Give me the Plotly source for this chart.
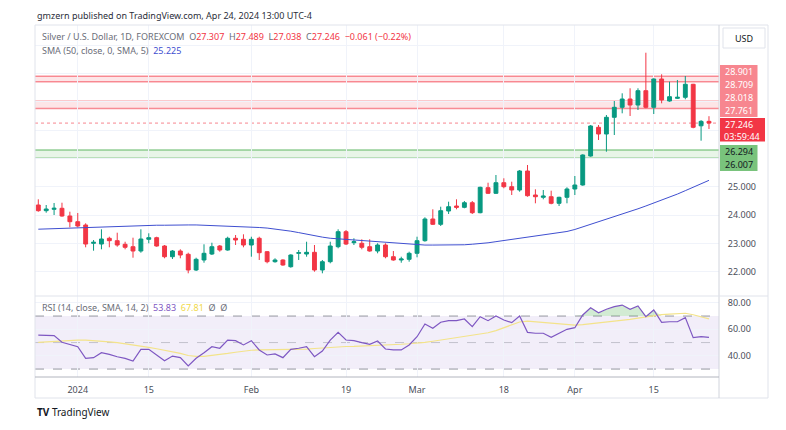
import plotly.graph_objects as go

# ---------------- data ----------------
opens = [24.354, 24.153, 24.202, 24.238, 23.966, 23.765, 23.648, 23.002, 22.977, 23.179,
         23.094, 22.967, 22.882, 22.730, 23.143, 23.200, 22.907, 22.529, 22.730, 22.614,
         22.060, 22.413, 22.624, 22.907, 22.765, 23.179, 23.143, 22.942, 23.179, 22.706,
         22.353, 22.413, 22.176, 22.649, 22.624, 22.684, 22.060, 22.353, 22.882, 23.412,
         23.023, 23.002, 22.882, 22.730, 22.942, 22.529, 22.413, 22.437, 22.649, 23.094,
         23.860, 23.673, 24.142, 24.319, 24.272, 24.435, 24.082, 24.965, 24.767, 25.141,
         25.000, 24.884, 25.554, 24.707, 24.626, 24.647, 24.414, 24.626, 24.919, 25.060,
         26.084, 27.097, 26.860, 27.450, 27.803, 28.096, 27.884, 28.389, 27.803, 28.802,
         28.025, 28.120, 28.156, 28.615, 27.150, 27.307]
highs = [24.555, 24.354, 24.425, 24.435, 24.118, 24.072, 23.708, 23.118, 23.496, 23.235,
         23.376, 23.058, 23.200, 23.496, 23.355, 23.235, 22.942, 22.765, 22.790, 22.670,
         22.494, 22.967, 23.023, 22.942, 23.235, 23.295, 23.320, 23.235, 23.235, 22.730,
         22.473, 22.437, 22.614, 22.765, 23.058, 22.942, 22.413, 23.058, 23.496, 23.471,
         23.179, 23.143, 23.143, 23.002, 23.002, 22.730, 22.529, 22.706, 23.235, 23.920,
         24.202, 24.294, 24.471, 24.555, 24.495, 24.495, 25.000, 25.141, 25.413, 25.297,
         25.177, 25.590, 25.766, 24.908, 24.884, 24.859, 24.647, 24.979, 25.378, 26.144,
         27.178, 27.178, 27.531, 28.025, 28.297, 28.474, 28.474, 29.730, 28.827, 28.968,
         28.707, 28.767, 28.908, 28.630, 27.350, 27.489]
lows = [24.117, 24.082, 24.001, 23.941, 23.567, 23.567, 22.861, 22.741, 22.790, 22.861,
        22.882, 22.790, 22.494, 22.670, 23.002, 22.882, 22.473, 22.448, 22.473, 21.943,
        22.024, 22.317, 22.589, 22.706, 22.741, 22.942, 22.861, 22.529, 22.413, 22.296,
        22.317, 22.211, 22.141, 22.413, 22.529, 22.000, 21.943, 22.296, 22.826, 22.942,
        22.942, 22.790, 22.706, 22.649, 22.473, 22.388, 22.317, 22.353, 22.508, 23.058,
        23.648, 23.613, 24.036, 24.202, 24.238, 24.036, 24.061, 24.742, 24.742, 24.944,
        24.707, 24.824, 24.647, 24.414, 24.555, 24.379, 24.319, 24.414, 24.707, 25.035,
        26.059, 26.649, 26.236, 26.825, 27.591, 27.496, 27.708, 27.768, 27.566, 27.944,
        28.000, 28.096, 28.085, 27.062, 26.624, 27.038]
closes = [24.153, 24.213, 24.238, 23.966, 23.765, 23.613, 22.977, 23.037, 23.154, 23.094,
          22.942, 22.861, 22.730, 23.154, 23.200, 22.907, 22.529, 22.730, 22.589, 22.060,
          22.437, 22.649, 22.882, 22.765, 23.179, 23.118, 22.942, 23.143, 22.670, 22.353,
          22.413, 22.236, 22.589, 22.670, 22.684, 22.060, 22.353, 22.907, 23.412, 22.977,
          23.058, 22.861, 22.730, 22.942, 22.529, 22.413, 22.448, 22.649, 23.094, 23.860,
          23.673, 24.153, 24.294, 24.272, 24.435, 24.082, 24.979, 24.767, 25.141, 25.000,
          24.884, 25.554, 24.682, 24.647, 24.672, 24.414, 24.626, 24.919, 25.060, 26.119,
          27.143, 26.860, 27.450, 27.803, 28.096, 27.884, 28.389, 27.803, 28.802, 28.060,
          28.177, 28.156, 28.615, 27.097, 27.307, 27.246]
sma50 = [23.50, 23.51, 23.53, 23.54, 23.55, 23.56, 23.57, 23.58, 23.59, 23.60,
         23.61, 23.62, 23.62, 23.63, 23.63, 23.64, 23.64, 23.65, 23.65, 23.65,
         23.65, 23.64, 23.64, 23.63, 23.62, 23.61, 23.60, 23.58, 23.56, 23.54,
         23.51, 23.48, 23.43, 23.38, 23.32, 23.27, 23.22, 23.18, 23.16, 23.14,
         23.12, 23.10, 23.08, 23.06, 23.03, 23.01, 22.99, 22.97, 22.95, 22.94,
         22.94, 22.94, 22.94, 22.94, 22.95, 22.97, 22.99, 23.02, 23.06, 23.10,
         23.15, 23.18, 23.21, 23.25, 23.29, 23.33, 23.37, 23.42, 23.49, 23.58,
         23.67, 23.76, 23.84, 23.93, 24.02, 24.12, 24.22, 24.32, 24.42, 24.53,
         24.63, 24.74, 24.86, 24.98, 25.10, 25.225]
rsi = [55.6, 55.4, 55.2, 50.2, 48.5, 46.9, 38.1, 38.6, 42.3, 41.1,
       39.3, 38.1, 36.1, 44.9, 44.9, 40.6, 36.3, 39.8, 38.6, 32.3,
       38.1, 42.3, 46.9, 45.7, 51.9, 51.4, 48.2, 51.4, 44.4, 40.6,
       41.4, 38.6, 44.9, 45.7, 46.9, 39.3, 43.6, 51.9, 57.7, 51.9,
       51.5, 50.0, 48.7, 51.2, 45.1, 44.4, 44.4, 48.2, 54.4, 64.0,
       60.8, 65.3, 66.5, 66.5, 67.8, 62.0, 69.5, 66.5, 70.0, 67.0,
       65.0, 70.0, 57.7, 57.0, 57.0, 54.0, 57.0, 60.0, 61.2, 70.8,
       76.3, 72.5, 75.1, 77.1, 78.3, 75.1, 77.6, 69.5, 74.6, 65.3,
       65.7, 65.7, 68.8, 53.7, 54.4, 53.83]
rsi_sma = [50.2, 50.6, 51.0, 51.4, 51.7, 51.9, 51.8, 51.5, 51.0, 50.5,
           50.0, 49.2, 48.3, 47.3, 46.3, 45.3, 44.2, 43.0, 41.8, 40.2,
           39.5, 39.6, 40.2, 41.0, 41.8, 42.7, 43.5, 44.2, 44.4, 44.5,
           44.5, 44.4, 44.4, 44.6, 45.0, 45.5, 46.0, 46.4, 46.8, 47.0,
           47.1, 47.3, 47.4, 47.6, 48.0, 48.3, 48.7, 49.1, 49.5, 50.2,
           51.0, 51.9, 52.8, 53.6, 54.5, 55.4, 56.4, 57.4, 59.0, 61.0,
           63.0, 65.5, 66.2, 65.7, 65.0, 64.4, 63.7, 63.3, 63.2, 63.6,
           64.2, 64.6, 65.2, 66.0, 66.8, 67.5, 68.4, 69.3, 70.3, 71.0,
           71.5, 71.9, 72.1, 71.0, 69.5, 67.81]
tick_idx = [5, 14, 27, 39, 48, 59, 68, 78]
tick_labels = ["2024", "15", "Feb", "19", "Mar", "18", "Apr", "15"]
resistance_bands = [(28.709, 28.901), (27.761, 28.018)]
support_band = (26.007, 26.294)
last_price = 27.246
price_ticks = [22, 23, 24, 25, 26, 27, 28, 29, 30]
price_tick_labels = ["22.000", "23.000", "24.000", "25.000", "", "", "", "", ""]
rsi_ticks = [40, 60, 80]
rsi_tick_labels = ["40.00", "60.00", "80.00"]

# ---------------- layout helpers ----------------
W, H = 786, 430
PL, PR, PT, PB = 35, 719, 25, 377        # plot area in pixels
SEP = 296                                 # price / RSI separator
FONT = "Noto Sans"
UP, DOWN = "#089981", "#f23645"


def xp(px):
    return (px - PL) / (PR - PL)


def yp(py):
    return (PB - py) / (PB - PT)


x = list(range(len(closes)))

fig = go.Figure()
fig.add_trace(go.Candlestick(
    x=x, open=opens, high=highs, low=lows, close=closes,
    increasing=dict(line=dict(color=UP, width=1), fillcolor=UP),
    decreasing=dict(line=dict(color=DOWN, width=1), fillcolor=DOWN),
    whiskerwidth=0, xaxis="x", yaxis="y", showlegend=False, hoverinfo="skip"))
fig.add_trace(go.Scatter(x=x, y=sma50, mode="lines", line=dict(color="#3f4fd0", width=1),
                         xaxis="x", yaxis="y", showlegend=False, hoverinfo="skip"))

# RSI overbought fill
ob = [max(v, 70) for v in rsi]
fig.add_trace(go.Scatter(x=x, y=[70] * len(x), mode="lines", line=dict(width=0),
                         xaxis="x", yaxis="y2", showlegend=False, hoverinfo="skip"))
fig.add_trace(go.Scatter(x=x, y=ob, mode="lines", line=dict(width=0), fill="tonexty",
                         fillcolor="rgba(76,175,80,0.25)", xaxis="x", yaxis="y2",
                         showlegend=False, hoverinfo="skip"))
fig.add_trace(go.Scatter(x=x, y=rsi_sma, mode="lines", line=dict(color="#f3e38a", width=1.2),
                         xaxis="x", yaxis="y2", showlegend=False, hoverinfo="skip"))
fig.add_trace(go.Scatter(x=x, y=rsi, mode="lines", line=dict(color="#7e57c2", width=1.2),
                         xaxis="x", yaxis="y2", showlegend=False, hoverinfo="skip"))

shapes = []
# resistance / support bands
for lo, hi in resistance_bands:
    shapes.append(dict(type="rect", xref="paper", yref="y", x0=0, x1=1, y0=lo, y1=hi,
                       fillcolor="rgba(242,54,69,0.13)", line=dict(width=0), layer="below"))
    for v in (lo, hi):
        shapes.append(dict(type="line", xref="paper", yref="y", x0=0, x1=1, y0=v, y1=v,
                           line=dict(color="rgba(242,54,69,0.55)", width=1.5), layer="below"))
lo, hi = support_band
shapes.append(dict(type="rect", xref="paper", yref="y", x0=0, x1=1, y0=lo, y1=hi,
                   fillcolor="rgba(76,175,80,0.13)", line=dict(width=0), layer="below"))
for v in (lo, hi):
    shapes.append(dict(type="line", xref="paper", yref="y", x0=0, x1=1, y0=v, y1=v,
                       line=dict(color="rgba(76,175,80,0.6)", width=1.5), layer="below"))
# last price dotted line
shapes.append(dict(type="line", xref="paper", yref="y", x0=0, x1=1, y0=last_price, y1=last_price,
                   line=dict(color="rgba(242,54,69,0.6)", width=1, dash="dot"), layer="below"))
# RSI band & levels
shapes.append(dict(type="rect", xref="paper", yref="y2", x0=0, x1=1, y0=30, y1=70,
                   fillcolor="rgba(126,87,194,0.1)", line=dict(width=0), layer="below"))
for v, c in ((70, "#9598a1"), (50, "rgba(149,152,161,0.5)"), (30, "#9598a1")):
    shapes.append(dict(type="line", xref="paper", yref="y2", x0=0, x1=1, y0=v, y1=v,
                       line=dict(color=c, width=1, dash="dash"), layer="below"))
# frame
shapes.append(dict(type="rect", xref="paper", yref="paper", x0=0, x1=xp(768), y0=yp(398), y1=1,
                   line=dict(color="#e0e3eb", width=1)))
shapes.append(dict(type="line", xref="paper", yref="paper", x0=1, x1=1, y0=yp(398), y1=1,
                   line=dict(color="#d1d4dc", width=1)))
shapes.append(dict(type="line", xref="paper", yref="paper", x0=0, x1=xp(768), y0=yp(SEP), y1=yp(SEP),
                   line=dict(color="#e0e3eb", width=1)))
shapes.append(dict(type="line", xref="paper", yref="paper", x0=0, x1=1, y0=0, y1=0,
                   line=dict(color="#b2b5be", width=1)))
# right-axis label backgrounds
shapes.append(dict(type="rect", xref="paper", yref="paper", x0=xp(720), x1=xp(757.5),
                   y0=yp(117), y1=yp(65), fillcolor="rgba(242,54,69,0.6)", line=dict(width=0)))
shapes.append(dict(type="rect", xref="paper", yref="paper", x0=xp(720), x1=xp(765),
                   y0=yp(141.5), y1=yp(118), fillcolor="#f23645", line=dict(width=0)))
shapes.append(dict(type="rect", xref="paper", yref="paper", x0=xp(720), x1=xp(757.5),
                   y0=yp(171), y1=yp(145), fillcolor="rgba(76,175,80,0.75)", line=dict(width=0)))
# USD box
shapes.append(dict(type="rect", xref="paper", yref="paper", x0=xp(723), x1=xp(765),
                   y0=yp(48), y1=yp(28), fillcolor="white", line=dict(color="#e0e3eb", width=1)))

ann = []


def text(px, py, s, size=9, color="#131722", anchor="left"):
    ann.append(dict(xref="paper", yref="paper", x=xp(px), y=yp(py), text=s, showarrow=False,
                    xanchor=anchor, yanchor="middle", font=dict(family=FONT, size=size, color=color)))


G = "#6a6d78"
R = "#f23645"
text(35, 15, "gmzern published on TradingView.com, Apr 24, 2024 13:00 UTC-4", 9, "#2a2e39")
text(40, 37,
     f"<span style='color:{G}'>Silver / U.S. Dollar, 1D, FOREXCOM</span>  "
     f"<span style='color:{G}'>O</span><span style='color:{R}'>{opens[-1]:.3f}</span>  "
     f"<span style='color:{G}'>H</span><span style='color:{R}'>{highs[-1]:.3f}</span>  "
     f"<span style='color:{G}'>L</span><span style='color:{R}'>{lows[-1]:.3f}</span>  "
     f"<span style='color:{G}'>C</span><span style='color:{R}'>{closes[-1]:.3f}</span>  "
     f"<span style='color:{R}'>−0.061 (−0.22%)</span>", 9)
text(40, 50, f"<span style='color:{G}'>SMA (50, close, 0, SMA, 5)</span>  "
             f"<span style='color:#3f4fd0'>{sma50[-1]:.3f}</span>", 9)
text(40, 307, f"<span style='color:{G}'>RSI (14, close, SMA, 14, 2)</span>  "
              f"<span style='color:#7e57c2'>{rsi[-1]:.2f}</span>  "
              f"<span style='color:#f0d84a'>{rsi_sma[-1]:.2f}</span>  "
              f"<span style='color:{G}'>Ø  Ø</span>", 9)
# right labels
for lbl, py in (("28.901", 71.5), ("28.709", 84), ("28.018", 97.3), ("27.761", 110)):
    text(739, py, lbl, 9, "white", "center")
text(739, 125, f"{last_price:.3f}", 9, "white", "center")
text(742, 136.5, "03:59:44", 9, "white", "center")
text(739, 151.5, f"{support_band[1]:.3f}", 9, "#131722", "center")
text(739, 164.3, f"{support_band[0]:.3f}", 9, "#131722", "center")
text(744, 38, "USD", 9, "#131722", "center")
text(35, 412, "<b>TV</b> TradingView", 10, "#131722")

fig.update_layout(
    width=W, height=H, margin=dict(l=PL, r=W - PR, t=PT, b=H - PB),
    paper_bgcolor="white", plot_bgcolor="white",
    font=dict(family=FONT, size=9, color="#131722"),
    shapes=shapes, annotations=ann, showlegend=False,
    xaxis=dict(domain=[0, 1], range=[-0.42, 86.27], anchor="y2", tickvals=tick_idx,
               ticktext=tick_labels, showgrid=True, gridcolor="#f0f3fa", zeroline=False,
               showline=False, ticks="outside", ticklen=4, tickcolor="rgba(0,0,0,0)",
               rangeslider=dict(visible=False), tickfont=dict(size=9, color="#4a4e59"), fixedrange=True),
    yaxis=dict(domain=[yp(SEP), 1], range=[21.142, 30.708], side="right", anchor="x",
               tickvals=price_ticks, ticktext=price_tick_labels, showgrid=True, gridcolor="#f0f3fa",
               zeroline=False, ticks="outside", ticklen=6, tickcolor="rgba(0,0,0,0)",
               tickfont=dict(size=9, color="#4a4e59")),
    yaxis2=dict(domain=[0, yp(SEP)], range=[24.0, 85.13], side="right", anchor="x",
                tickvals=rsi_ticks, ticktext=rsi_tick_labels, showgrid=True, gridcolor="#f0f3fa",
                zeroline=False, ticks="outside", ticklen=6, tickcolor="rgba(0,0,0,0)",
                tickfont=dict(size=9, color="#4a4e59")),
)

fig.write_html("out.html", config={"displayModeBar": False},
               post_script="document.body.style.margin='0';document.body.style.overflow='hidden';")
